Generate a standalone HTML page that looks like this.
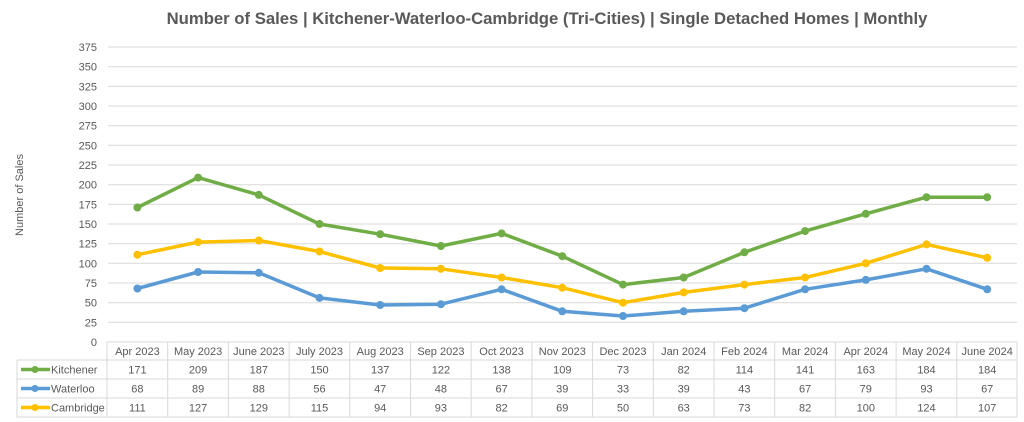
<!DOCTYPE html><html><head><style>body{margin:0;background:#fff}svg{display:block}text{font-family:"Liberation Sans",sans-serif;fill:#595959}</style></head><body>
<svg width="1024" height="422" viewBox="0 0 1024 422">
<text x="547" y="24" font-size="16.7" font-weight="bold" text-anchor="middle">Number of Sales | Kitchener-Waterloo-Cambridge (Tri-Cities) | Single Detached Homes | Monthly</text>
<g stroke="#d9d9d9" stroke-width="1">
<line x1="108" x2="1017" y1="47" y2="47"/><line x1="108" x2="1017" y1="66.7" y2="66.7"/><line x1="108" x2="1017" y1="86.3" y2="86.3"/><line x1="108" x2="1017" y1="106" y2="106"/><line x1="108" x2="1017" y1="125.7" y2="125.7"/><line x1="108" x2="1017" y1="145.3" y2="145.3"/><line x1="108" x2="1017" y1="165" y2="165"/><line x1="108" x2="1017" y1="184.7" y2="184.7"/><line x1="108" x2="1017" y1="204.3" y2="204.3"/><line x1="108" x2="1017" y1="224" y2="224"/><line x1="108" x2="1017" y1="243.7" y2="243.7"/><line x1="108" x2="1017" y1="263.3" y2="263.3"/><line x1="108" x2="1017" y1="283" y2="283"/><line x1="108" x2="1017" y1="302.7" y2="302.7"/><line x1="108" x2="1017" y1="322.3" y2="322.3"/>
</g>
<g font-size="11" text-anchor="end">
<text x="97" y="51">375</text><text x="97" y="70.7">350</text><text x="97" y="90.3">325</text><text x="97" y="110">300</text><text x="97" y="129.7">275</text><text x="97" y="149.3">250</text><text x="97" y="169">225</text><text x="97" y="188.7">200</text><text x="97" y="208.3">175</text><text x="97" y="228">150</text><text x="97" y="247.7">125</text><text x="97" y="267.3">100</text><text x="97" y="287">75</text><text x="97" y="306.7">50</text><text x="97" y="326.3">25</text><text x="97" y="346">0</text>
</g>
<text transform="translate(23,195) rotate(-90)" font-size="11" text-anchor="middle">Number of Sales</text>
<g fill="none" stroke-width="3.5" stroke-linejoin="round">
<polyline stroke="#70ad47" points="137.4,207.5 198.1,177.6 258.8,194.9 319.5,224 380.2,234.2 440.9,246 501.6,233.4 562.3,256.2 623,284.6 683.7,277.5 744.4,252.3 805.1,231.1 865.8,213.8 926.5,197.2 987.2,197.2"/>
<polyline stroke="#5b9bd5" points="137.4,288.5 198.1,272 258.8,272.8 319.5,297.9 380.2,305 440.9,304.2 501.6,289.3 562.3,311.3 623,316 683.7,311.3 744.4,308.2 805.1,289.3 865.8,279.9 926.5,268.8 987.2,289.3"/>
<polyline stroke="#ffc000" points="137.4,254.7 198.1,242.1 258.8,240.5 319.5,251.5 380.2,268 440.9,268.8 501.6,277.5 562.3,287.7 623,302.7 683.7,292.4 744.4,284.6 805.1,277.5 865.8,263.3 926.5,244.4 987.2,257.8"/>
</g>
<g fill="#70ad47"><circle cx="137.4" cy="207.5" r="4"/><circle cx="198.1" cy="177.6" r="4"/><circle cx="258.8" cy="194.9" r="4"/><circle cx="319.5" cy="224" r="4"/><circle cx="380.2" cy="234.2" r="4"/><circle cx="440.9" cy="246" r="4"/><circle cx="501.6" cy="233.4" r="4"/><circle cx="562.3" cy="256.2" r="4"/><circle cx="623" cy="284.6" r="4"/><circle cx="683.7" cy="277.5" r="4"/><circle cx="744.4" cy="252.3" r="4"/><circle cx="805.1" cy="231.1" r="4"/><circle cx="865.8" cy="213.8" r="4"/><circle cx="926.5" cy="197.2" r="4"/><circle cx="987.2" cy="197.2" r="4"/></g>
<g fill="#5b9bd5"><circle cx="137.4" cy="288.5" r="4"/><circle cx="198.1" cy="272" r="4"/><circle cx="258.8" cy="272.8" r="4"/><circle cx="319.5" cy="297.9" r="4"/><circle cx="380.2" cy="305" r="4"/><circle cx="440.9" cy="304.2" r="4"/><circle cx="501.6" cy="289.3" r="4"/><circle cx="562.3" cy="311.3" r="4"/><circle cx="623" cy="316" r="4"/><circle cx="683.7" cy="311.3" r="4"/><circle cx="744.4" cy="308.2" r="4"/><circle cx="805.1" cy="289.3" r="4"/><circle cx="865.8" cy="279.9" r="4"/><circle cx="926.5" cy="268.8" r="4"/><circle cx="987.2" cy="289.3" r="4"/></g>
<g fill="#ffc000"><circle cx="137.4" cy="254.7" r="4"/><circle cx="198.1" cy="242.1" r="4"/><circle cx="258.8" cy="240.5" r="4"/><circle cx="319.5" cy="251.5" r="4"/><circle cx="380.2" cy="268" r="4"/><circle cx="440.9" cy="268.8" r="4"/><circle cx="501.6" cy="277.5" r="4"/><circle cx="562.3" cy="287.7" r="4"/><circle cx="623" cy="302.7" r="4"/><circle cx="683.7" cy="292.4" r="4"/><circle cx="744.4" cy="284.6" r="4"/><circle cx="805.1" cy="277.5" r="4"/><circle cx="865.8" cy="263.3" r="4"/><circle cx="926.5" cy="244.4" r="4"/><circle cx="987.2" cy="257.8" r="4"/></g>
<g stroke="#d9d9d9" stroke-width="1" fill="none">
<line x1="107" x2="1017" y1="342" y2="342"/><line x1="17" x2="1017" y1="360" y2="360"/><line x1="17" x2="1017" y1="379" y2="379"/><line x1="17" x2="1017" y1="398" y2="398"/><line x1="17" x2="1017" y1="417" y2="417"/>
<line x1="17" x2="17" y1="360" y2="417"/>
<line x1="107" x2="107" y1="342" y2="417"/><line x1="167.7" x2="167.7" y1="342" y2="417"/><line x1="228.4" x2="228.4" y1="342" y2="417"/><line x1="289.1" x2="289.1" y1="342" y2="417"/><line x1="349.8" x2="349.8" y1="342" y2="417"/><line x1="410.5" x2="410.5" y1="342" y2="417"/><line x1="471.2" x2="471.2" y1="342" y2="417"/><line x1="531.9" x2="531.9" y1="342" y2="417"/><line x1="592.6" x2="592.6" y1="342" y2="417"/><line x1="653.3" x2="653.3" y1="342" y2="417"/><line x1="714" x2="714" y1="342" y2="417"/><line x1="774.7" x2="774.7" y1="342" y2="417"/><line x1="835.4" x2="835.4" y1="342" y2="417"/><line x1="896.1" x2="896.1" y1="342" y2="417"/><line x1="956.8" x2="956.8" y1="342" y2="417"/><line x1="1017" x2="1017" y1="342" y2="417"/>
</g>
<g stroke-width="3.5"><line x1="21" x2="50" y1="369.5" y2="369.5" stroke="#70ad47"/><line x1="21" x2="50" y1="388.5" y2="388.5" stroke="#5b9bd5"/><line x1="21" x2="50" y1="407.5" y2="407.5" stroke="#ffc000"/></g>
<circle cx="35" cy="369.5" r="3.5" fill="#70ad47"/><circle cx="35" cy="388.5" r="3.5" fill="#5b9bd5"/><circle cx="35" cy="407.5" r="3.5" fill="#ffc000"/>
<g font-size="11"><text x="51" y="373.5">Kitchener</text><text x="51" y="392.5">Waterloo</text><text x="51" y="411.5">Cambridge</text></g>
<g font-size="11" text-anchor="middle">
<text x="137.4" y="355">Apr 2023</text><text x="198.1" y="355">May 2023</text><text x="258.8" y="355">June 2023</text><text x="319.5" y="355">July 2023</text><text x="380.2" y="355">Aug 2023</text><text x="440.9" y="355">Sep 2023</text><text x="501.6" y="355">Oct 2023</text><text x="562.3" y="355">Nov 2023</text><text x="623" y="355">Dec 2023</text><text x="683.7" y="355">Jan 2024</text><text x="744.4" y="355">Feb 2024</text><text x="805.1" y="355">Mar 2024</text><text x="865.8" y="355">Apr 2024</text><text x="926.5" y="355">May 2024</text><text x="987.2" y="355">June 2024</text>
<text x="137.4" y="373.5">171</text><text x="198.1" y="373.5">209</text><text x="258.8" y="373.5">187</text><text x="319.5" y="373.5">150</text><text x="380.2" y="373.5">137</text><text x="440.9" y="373.5">122</text><text x="501.6" y="373.5">138</text><text x="562.3" y="373.5">109</text><text x="623" y="373.5">73</text><text x="683.7" y="373.5">82</text><text x="744.4" y="373.5">114</text><text x="805.1" y="373.5">141</text><text x="865.8" y="373.5">163</text><text x="926.5" y="373.5">184</text><text x="987.2" y="373.5">184</text>
<text x="137.4" y="392.5">68</text><text x="198.1" y="392.5">89</text><text x="258.8" y="392.5">88</text><text x="319.5" y="392.5">56</text><text x="380.2" y="392.5">47</text><text x="440.9" y="392.5">48</text><text x="501.6" y="392.5">67</text><text x="562.3" y="392.5">39</text><text x="623" y="392.5">33</text><text x="683.7" y="392.5">39</text><text x="744.4" y="392.5">43</text><text x="805.1" y="392.5">67</text><text x="865.8" y="392.5">79</text><text x="926.5" y="392.5">93</text><text x="987.2" y="392.5">67</text>
<text x="137.4" y="411.5">111</text><text x="198.1" y="411.5">127</text><text x="258.8" y="411.5">129</text><text x="319.5" y="411.5">115</text><text x="380.2" y="411.5">94</text><text x="440.9" y="411.5">93</text><text x="501.6" y="411.5">82</text><text x="562.3" y="411.5">69</text><text x="623" y="411.5">50</text><text x="683.7" y="411.5">63</text><text x="744.4" y="411.5">73</text><text x="805.1" y="411.5">82</text><text x="865.8" y="411.5">100</text><text x="926.5" y="411.5">124</text><text x="987.2" y="411.5">107</text>
</g>
</svg></body></html>
